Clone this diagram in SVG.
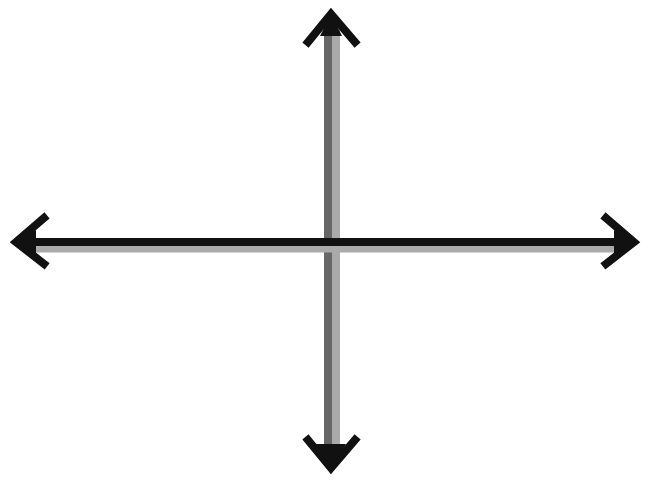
<svg xmlns="http://www.w3.org/2000/svg" width="648" height="484" viewBox="0 0 648 484">
  <style>
    .head { fill: none; stroke: #111; stroke-width: 8; stroke-linejoin: miter; stroke-linecap: square; }
    .tip { fill: #111; stroke: none; }
  </style>
  <rect width="648" height="484" fill="#fff"/>
  <g id="connectors">
    <g id="vertical-axis">
      <line x1="328" y1="18" x2="328" y2="466" stroke="#666" stroke-width="8"/>
      <line x1="336" y1="30" x2="336" y2="454" stroke="#aaa" stroke-width="8"/>
      <polyline class="head" points="308,42 331,14 355,42"/>
      <polygon class="tip" points="331,14 320,36 342,36"/>
      <polyline class="head" points="308,440 331,468 355,440"/>
      <polygon class="tip" points="331,468 316,444 346,444"/>
    </g>
    <g id="horizontal-axis">
      <line x1="30" y1="249" x2="620" y2="249" stroke="#aaa" stroke-width="7"/>
      <line x1="16" y1="242" x2="634" y2="242" stroke="#111" stroke-width="8"/>
      <polyline class="head" points="44,218 16,242 44,264"/>
      <polygon class="tip" points="16,242 36,230 36,254"/>
      <polyline class="head" points="606,218 634,242 606,264"/>
      <polygon class="tip" points="634,242 614,230 614,254"/>
    </g>
  </g>
</svg>
